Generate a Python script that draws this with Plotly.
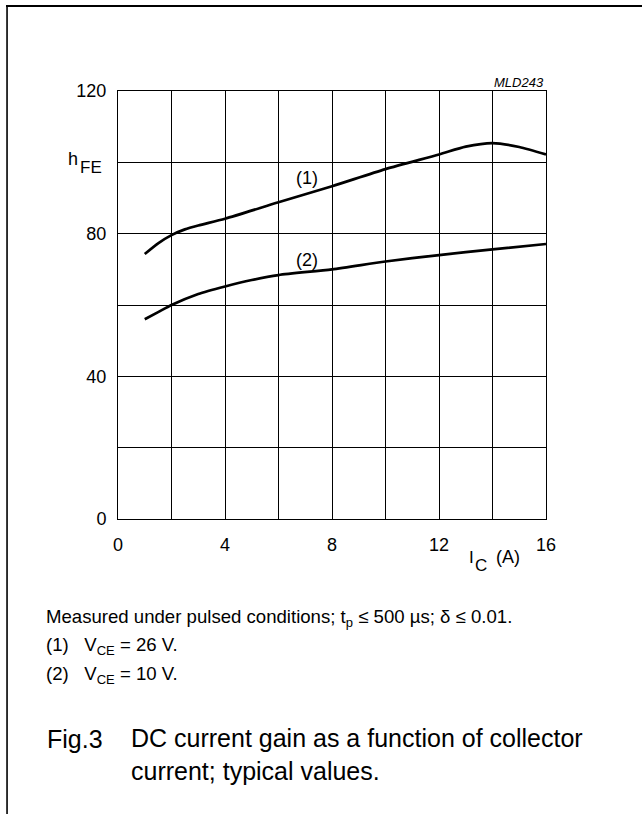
import plotly.graph_objects as go

# Data
ic_1 = [1, 1.5, 2, 2.5, 3, 4, 6, 8, 10, 12, 13, 14, 15, 16]
hfe_1 = [74.3, 77.3, 79.6, 81.2, 82.3, 84.2, 88.8, 93.3, 98.1, 102.2, 104.4, 105.4, 104.3, 102.2]
ic_2 = [1, 1.5, 2, 3, 4, 5, 6, 8, 10, 12, 14, 16]
hfe_2 = [56.0, 58.0, 60.0, 63.1, 65.2, 67.0, 68.4, 70.0, 72.2, 74.0, 75.6, 77.1]

x_ticks = [0, 2, 4, 6, 8, 10, 12, 14, 16]
x_labels = ["0", "", "4", "", "8", "", "12", "", "16"]
y_ticks = [0, 20, 40, 60, 80, 100, 120]
y_labels = ["0", "", "40", "", "80", "", "120"]

FONT = "Liberation Sans, Arial, sans-serif"
W, H = 642, 814
L, R, T, B = 118.3, 545.7, 91, 519


def px(xp):
    return (xp - L) / (R - L)


def py(yp):
    return (B - yp) / (B - T)


def txt(x, y, s, size, xanchor="left", **kw):
    return dict(x=px(x), y=py(y), xref="paper", yref="paper", text=s, showarrow=False,
                xanchor=xanchor, yanchor="middle", font=dict(family=FONT, size=size, color="black"), **kw)


fig = go.Figure()
for xs, ys in ((ic_1, hfe_1), (ic_2, hfe_2)):
    fig.add_trace(go.Scatter(x=xs, y=ys, mode="lines",
                             line=dict(color="black", width=2.7, shape="spline", smoothing=0.7),
                             showlegend=False, hoverinfo="skip"))

axis_common = dict(showgrid=True, gridcolor="black", gridwidth=1, showline=True, linecolor="black",
                   linewidth=1, mirror=True, zeroline=False, ticks="",
                   tickfont=dict(family=FONT, size=18, color="black"))

fig.update_xaxes(range=[0, 16], tickmode="array", tickvals=x_ticks, ticktext=x_labels,
                 ticklabelstandoff=9, **axis_common)
fig.update_yaxes(range=[0, 120], tickmode="array", tickvals=y_ticks, ticktext=y_labels,
                 ticklabelstandoff=7, **axis_common)

annotations = [
    dict(x=7.05, y=95.6, xref="x", yref="y", text="(1)", showarrow=False,
         font=dict(family=FONT, size=18, color="black")),
    dict(x=7.05, y=72.6, xref="x", yref="y", text="(2)", showarrow=False,
         font=dict(family=FONT, size=18, color="black")),
    txt(546, 82, "<i>MLD243</i>", 13, xanchor="right"),
    txt(66, 159, "h", 18),
    txt(78, 167, "FE", 17),
    txt(467, 557, "I", 17),
    txt(473, 565, "C", 17),
    txt(494, 557, "(A)", 18),
    txt(44, 618, "Measured under pulsed conditions; t<sub>p</sub> ≤ 500 µs; δ ≤ 0.01.", 18.6),
    txt(44, 646, "(1)   V<sub>CE</sub> = 26 V.", 18.6),
    txt(44, 675, "(2)   V<sub>CE</sub> = 10 V.", 18.6),
    txt(45, 739, "Fig.3", 25),
    txt(129, 754, "DC current gain as a function of collector<br>current; typical values.", 25, align="left"),
]

shapes = [
    dict(type="line", xref="paper", yref="paper", x0=px(6.5), x1=px(642), y0=py(6), y1=py(6),
         line=dict(color="black", width=2)),
    dict(type="line", xref="paper", yref="paper", x0=px(7.5), x1=px(7.5), y0=py(5), y1=py(814),
         line=dict(color="black", width=1.6)),
]

fig.update_layout(
    width=W, height=H,
    margin=dict(l=L, r=W - R, t=T, b=H - B, pad=0),
    paper_bgcolor="white", plot_bgcolor="white",
    annotations=annotations, shapes=shapes,
    font=dict(family=FONT, color="black"),
)

fig.write_html("out.html", config={"displayModeBar": False},
               post_script="document.body.style.margin='0px';")
